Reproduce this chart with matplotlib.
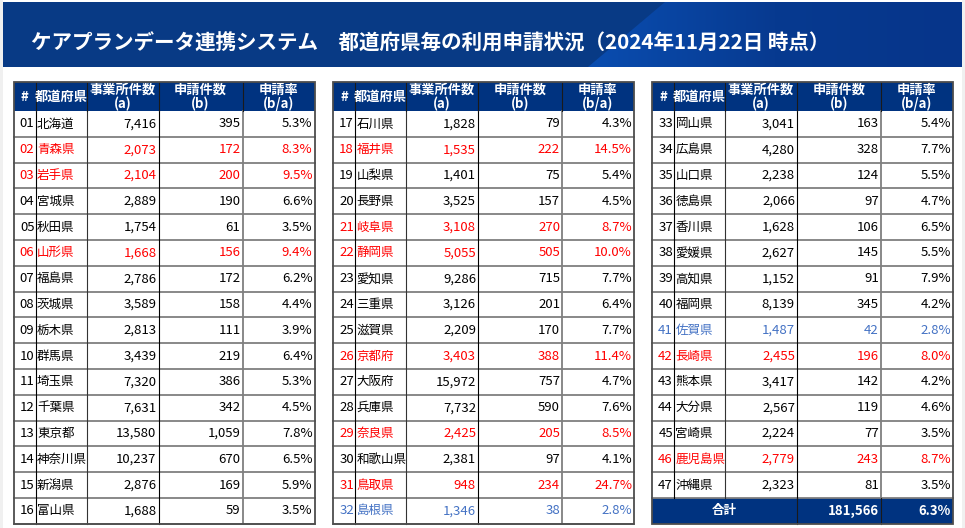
import numpy as np
import matplotlib
matplotlib.use("Agg")
import matplotlib.pyplot as plt
from matplotlib.patches import Rectangle, Polygon

plt.rcParams['font.family'] = ['Noto Sans CJK JP', 'DejaVu Sans']

""" Data """
title = "ケアプランデータ連携システム　都道府県毎の利用申請状況（2024年11月22日 時点）"
headers = ["#", "都道府県", "事業所件数\n(a)", "申請件数\n(b)", "申請率\n(b/a)"]

codes = ["%02d" % i for i in range(1, 48)]
prefs = ["北海道", "青森県", "岩手県", "宮城県", "秋田県", "山形県", "福島県", "茨城県",
         "栃木県", "群馬県", "埼玉県", "千葉県", "東京都", "神奈川県", "新潟県", "富山県",
         "石川県", "福井県", "山梨県", "長野県", "岐阜県", "静岡県", "愛知県", "三重県",
         "滋賀県", "京都府", "大阪府", "兵庫県", "奈良県", "和歌山県", "鳥取県", "島根県",
         "岡山県", "広島県", "山口県", "徳島県", "香川県", "愛媛県", "高知県", "福岡県",
         "佐賀県", "長崎県", "熊本県", "大分県", "宮崎県", "鹿児島県", "沖縄県"]
offices = [7416, 2073, 2104, 2889, 1754, 1668, 2786, 3589,
           2813, 3439, 7320, 7631, 13580, 10237, 2876, 1688,
           1828, 1535, 1401, 3525, 3108, 5055, 9286, 3126,
           2209, 3403, 15972, 7732, 2425, 2381, 948, 1346,
           3041, 4280, 2238, 2066, 1628, 2627, 1152, 8139,
           1487, 2455, 3417, 2567, 2224, 2779, 2323]
applied = [395, 172, 200, 190, 61, 156, 172, 158,
           111, 219, 386, 342, 1059, 670, 169, 59,
           79, 222, 75, 157, 270, 505, 715, 201,
           170, 388, 757, 590, 205, 97, 234, 38,
           163, 328, 124, 97, 106, 145, 91, 345,
           42, 196, 142, 119, 77, 243, 81]
rates = [5.3, 8.3, 9.5, 6.6, 3.5, 9.4, 6.2, 4.4,
         3.9, 6.4, 5.3, 4.5, 7.8, 6.5, 5.9, 3.5,
         4.3, 14.5, 5.4, 4.5, 8.7, 10.0, 7.7, 6.4,
         7.7, 11.4, 4.7, 7.6, 8.5, 4.1, 24.7, 2.8,
         5.4, 7.7, 5.5, 4.7, 6.5, 5.5, 7.9, 4.2,
         2.8, 8.0, 4.2, 4.6, 3.5, 8.7, 3.5]
red_codes = ["02", "03", "06", "18", "21", "22", "26", "29", "31", "42", "46"]
blue_codes = ["32", "41"]
total_label = "合計"
total_value = 181566
total_rate = 6.3

""" Layout (pixels) """
W, H = 965, 528
navy = "#003380"
red = "#ff0000"
blue = "#4472c4"
table_left = [13.5, 333, 652]
col_w = [22, 51, 72, 84, 72]
head_top, head_bot = 82, 111
row_h = 25.8
fs_num = 9.5
fs_name = 9

fig = plt.figure(figsize=(W / 100, H / 100), dpi=100)
ax = fig.add_axes([0, 0, 1, 1])
ax.set_xlim(0, W)
ax.set_ylim(H, 0)
ax.axis("off")

# side margins
ax.add_patch(Rectangle((0, 0), 3, H, color="#f0f0f0", lw=0))
ax.add_patch(Rectangle((962, 0), 3, H, color="#f0f0f0", lw=0))

# banner
ax.add_patch(Rectangle((3, 2), 959, 65, color="#083a85", lw=0))
grad = np.linspace(0, 1, 256).reshape(1, -1)
cmap = matplotlib.colors.LinearSegmentedColormap.from_list("b", ["#0a4db0", "#073a90", "#06358a"])
im = ax.imshow(grad, extent=(588, 962, 67, 2), cmap=cmap, aspect="auto", zorder=1)
clip = Polygon([(588, 67), (665, 2), (962, 2), (962, 67)], closed=True, transform=ax.transData)
im.set_clip_path(clip)
ax.text(31, 43, title, color="white", fontsize=14.8, fontweight="bold", va="center", ha="left", zorder=3)


def draw_table(t, start, count, total=False):
    x0 = table_left[t]
    xs = np.concatenate([[x0], x0 + np.cumsum(col_w)])
    # header
    ax.add_patch(Rectangle((xs[0], head_top), xs[-1] - xs[0], head_bot - head_top, color=navy, lw=0, zorder=2))
    for c, h in enumerate(headers):
        ax.text((xs[c] + xs[c + 1]) / 2, (head_top + head_bot) / 2 + 0.5, h, color="white", fontsize=9.5,
                fontweight="bold", ha="center", va="center", linespacing=1.0, zorder=4)
    n_rows = count + (1 if total else 0)
    bottom = head_bot + n_rows * row_h
    for r in range(count):
        i = start + r
        yc = head_bot + (r + 0.5) * row_h
        col = red if codes[i] in red_codes else (blue if codes[i] in blue_codes else "black")
        ax.text(xs[1] - 1, yc, codes[i], ha="right", va="center", fontsize=fs_num, color=col, zorder=4)
        ax.text(xs[1] + 1.5, yc, prefs[i], ha="left", va="center", fontsize=fs_name, color=col, zorder=4)
        ax.text(xs[3] - 2, yc, f"{offices[i]:,}", ha="right", va="center", fontsize=fs_num, color=col, zorder=4)
        ax.text(xs[4] - 2, yc, f"{applied[i]:,}", ha="right", va="center", fontsize=fs_num, color=col, zorder=4)
        ax.text(xs[5] - 2, yc, f"{rates[i]:.1f}%", ha="right", va="center", fontsize=fs_num, color=col, zorder=4)
    # horizontal lines
    for r in range(1, count + 1):
        y = head_bot + r * row_h
        ax.plot([xs[0], xs[-1]], [y, y], color="#7f7f7f", lw=1.3, zorder=3)
    # vertical lines in body
    for c in range(1, 5):
        lc, lw = ("#7f7f7f", 1.3) if c == 4 else ("black", 0.8)
        if c == 2:
            lc = "#333333"
        ax.plot([xs[c], xs[c]], [head_bot, head_bot + count * row_h], color=lc, lw=lw, zorder=3)
        ax.plot([xs[c], xs[c]], [head_top, head_bot], color="#1a1a1a", lw=0.8, zorder=3)
    if total:
        y0 = head_bot + count * row_h
        yc = y0 + row_h / 2
        ax.add_patch(Rectangle((xs[0], y0), xs[-1] - xs[0], row_h, color=navy, lw=0, zorder=2))
        ax.plot([xs[3], xs[3]], [y0, y0 + row_h], color="#1a1a1a", lw=0.8, zorder=3)
        ax.plot([xs[4], xs[4]], [y0, y0 + row_h], color="#1a1a1a", lw=0.8, zorder=3)
        ax.text((xs[0] + xs[3]) / 2, yc, total_label, color="white", ha="center", va="center",
                fontsize=fs_name, fontweight="bold", zorder=4)
        ax.text(xs[4] - 2, yc, f"{total_value:,}", color="white", ha="right", va="center",
                fontsize=fs_num, fontweight="bold", zorder=4)
        ax.text(xs[5] - 2, yc, f"{total_rate:.1f}%", color="white", ha="right", va="center",
                fontsize=fs_num, fontweight="bold", zorder=4)
    # outer border
    ax.add_patch(Rectangle((xs[0], head_top), xs[-1] - xs[0], bottom - head_top, fill=False,
                           ec="#4d4d4d", lw=1.3, zorder=5))


draw_table(0, 0, 16)
draw_table(1, 16, 16)
draw_table(2, 32, 15, total=True)

fig.savefig("out.png", dpi=100)
